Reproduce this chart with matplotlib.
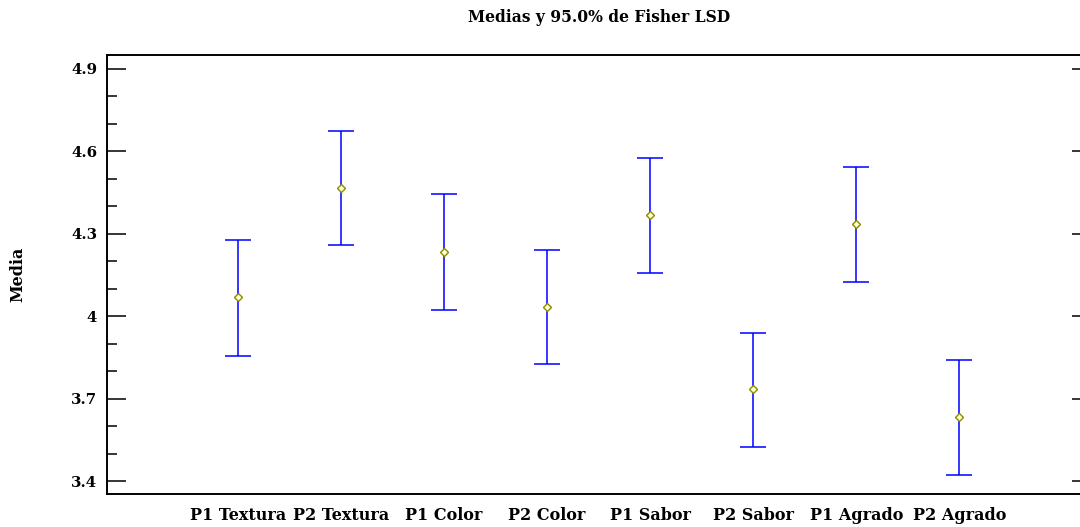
import matplotlib
matplotlib.use("Agg")
import matplotlib.pyplot as plt
from matplotlib.ticker import MultipleLocator, FixedLocator

categories = ["P1 Textura", "P2 Textura", "P1 Color", "P2 Color",
              "P1 Sabor", "P2 Sabor", "P1 Agrado", "P2 Agrado"]
means = [4.070, 4.467, 4.232, 4.032, 4.367, 3.734, 4.336, 3.634]
upper = [4.277, 4.675, 4.445, 4.241, 4.576, 3.941, 4.544, 3.842]
lower = [3.856, 4.259, 4.024, 3.825, 4.159, 3.526, 4.123, 3.422]
yticks = [3.4, 3.7, 4.0, 4.3, 4.6, 4.9]
ytick_labels = ["3.4", "3.7", "4", "4.3", "4.6", "4.9"]

plt.rcParams['font.family'] = ['DejaVu Serif']
plt.rcParams['font.weight'] = 'bold'

fig = plt.figure(figsize=(10.8, 5.27), dpi=100)
ax = fig.add_axes([107/1080, 33/527, (1080-107)/1080, (494-55)/527])

x = list(range(len(categories)))
err_lo = [m - l for m, l in zip(means, lower)]
err_hi = [u - m for m, u in zip(means, upper)]
ax.errorbar(x, means, yerr=[err_lo, err_hi], fmt='none', ecolor='#0000ff',
            elinewidth=1.1, capsize=9.5, capthick=1.1, zorder=2)
ax.plot(x, means, linestyle='none', marker='D', markersize=4.2,
        markerfacecolor='#ffffcc', markeredgecolor='#8c8c00',
        markeredgewidth=1.0, zorder=3)

ax.set_xlim(-1.27, 8.17)
ax.set_ylim(3.354, 4.9498)
ax.set_xticks(x)
ax.set_xticklabels(categories, fontsize=11.5, fontweight='bold')
ax.tick_params(axis='x', length=0, pad=9)

ax.yaxis.set_major_locator(FixedLocator(yticks))
ax.set_yticklabels(ytick_labels, fontsize=10.8, fontweight='bold')
ax.yaxis.set_minor_locator(MultipleLocator(0.1))
ax.tick_params(axis='y', which='major', direction='in', length=13.5,
               width=1.1, pad=7, left=True, right=False)
ax.tick_params(axis='y', which='minor', direction='in', length=7,
               width=1.1, left=True, right=False)

ax2 = ax.twinx()
ax2.set_ylim(ax.get_ylim())
ax2.yaxis.set_major_locator(FixedLocator(yticks))
ax2.yaxis.set_minor_locator(FixedLocator([]))
ax2.tick_params(axis='y', which='major', direction='in', length=6,
               width=1.1, labelright=False)
for a in (ax, ax2):
    a.spines['right'].set_visible(False)
    for s in ('top', 'left', 'bottom'):
        a.spines[s].set_linewidth(1.2)

ax.set_ylabel("Media", fontsize=11.5, fontweight='bold')
ax.yaxis.set_label_coords(-(107-26)/973, 0.5)
fig.text(599/1080, 1 - 17/527, "Medias y 95.0% de Fisher LSD",
         ha='center', va='center', fontsize=11.2, fontweight='bold')

fig.savefig("out.png", dpi=100)
